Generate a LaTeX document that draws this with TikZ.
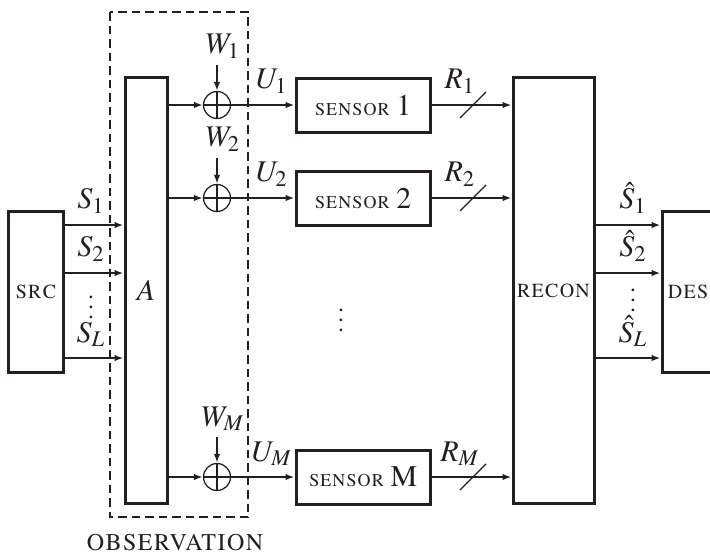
\documentclass[tikz,border=0pt]{standalone}
\usepackage[T1]{fontenc}
\usepackage{mathptmx}
\usepackage{xcolor}
\usetikzlibrary{calc,arrows.meta,positioning}
\definecolor{inkBlack}{RGB}{35,31,32}

\tikzset{
  blk/.style={draw=inkBlack, line width=1.2pt, inner sep=0pt, text=inkBlack, font=\normalsize},
  summer/.style={draw=inkBlack, circle, line width=0.5pt, minimum size=10.8pt, inner sep=0pt,
    path picture={\draw[inkBlack, line width=0.5pt]
      (path picture bounding box.north)--(path picture bounding box.south)
      (path picture bounding box.west)--(path picture bounding box.east);}},
  sig/.style={draw=inkBlack, line width=0.8pt, -{Latex[length=3.6pt,width=2.6pt]}},
  lbl/.style={anchor=south, inner sep=0pt, text=inkBlack, font=\large},
  dots/.style={inner sep=0pt, text=inkBlack}
}

\begin{document}
\begin{tikzpicture}[x=0.4pt,y=-0.4pt]
\useasboundingbox (0,0) rectangle (710,553);

% observation frame
\draw[inkBlack, line width=0.8pt, dash pattern=on 3.4pt off 2pt] (110,12) rectangle (248,517);
\node[text=inkBlack, font=\large] (obs) at (175,543) {\textsc{observation}};

% main blocks
\node[blk, minimum width=21.6pt, minimum height=64.4pt] (src) at (36,291.5) {\textsc{src}};
\node[blk, minimum width=16.8pt, minimum height=170pt, font=\large] (a) at (146,290.5) {$A$};
\node[blk, minimum width=32.4pt, minimum height=170pt] (recon) at (553.5,290.5) {\textsc{recon}};
\node[blk, minimum width=20.8pt, minimum height=64.4pt] (des) at (688,291.5) {\textsc{des}};

% sources and estimates
\foreach \k/\y/\t in {1/225/1,2/273/2,3/358/L}{
  \coordinate (s\k) at (63,\y);
  \draw[sig] (s\k) -- (a.west |- s\k);
  \node[lbl] (sl\k) at (91,\y-11) {$S_\t$};
  \coordinate (e\k) at (594,\y);
  \draw[sig] (e\k) -- (des.west |- e\k);
  \node[lbl] (el\k) at (633,\y-11) {$\hat{S}_\t$};
}
\node[dots] (sdots) at (91,300) {$\vdots$};
\node[dots] (edots) at (633,293) {$\vdots$};

% noisy observations and sensors
\foreach \k/\y/\t in {1/105/1,2/198/2,3/477/M}{
  \node[summer] (sum\k) at (217,\y) {};
  \node[blk, minimum width=53.6pt, minimum height=21.6pt] (sen\k) at (363,\y)
    {{\small\textsc{sensor}} {\large\t}};
  \coordinate (w\k) at (217,\y-40);
  \node[lbl] (wl\k) at (223,\y-46) {$W_\t$};
  \draw[sig] (w\k) -- (sum\k);
  \draw[sig] (a.east |- sum\k) -- (sum\k);
  \draw[sig] (sum\k) -- (sen\k);
  \node[lbl] (ul\k) at (272,\y-11) {$U_\t$};
  \draw[sig] (sen\k) -- (recon.west |- sen\k);
  \coordinate (cut\k) at (473,\y);
  \draw[inkBlack, line width=0.5pt] ($(cut\k)+(-13,13)$) -- ($(cut\k)+(13,-13)$);
  \node[lbl] (rl\k) at (460,\y-11) {$R_\t$};
}
\node[dots] (mdots) at (341,313) {$\vdots$};
\end{tikzpicture}
\end{document}
